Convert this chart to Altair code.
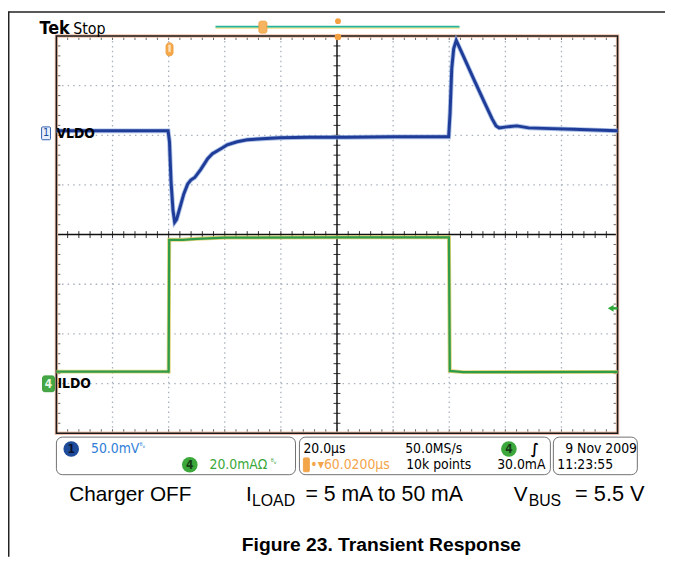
import altair as alt
import pandas as pd

# ---------------- data ----------------
# time axis: 20 us/div, 10 divisions -> 0..200 us across the graticule
vldo_t_us = [0, 39.8, 40.3, 40.85, 41.55, 42.15, 42.8, 43.3, 44.4, 45.4, 46.8, 47.9, 49.3,
             51.4, 53.9, 55.6, 57.4, 59.2, 60.9, 64.4, 68.0, 73.2, 79.6, 90.0, 103.2,
             120.0, 139.8, 140.3, 140.9, 141.6, 142.5, 145.4, 148.9, 152.5, 155.3, 156.7,
             157.8, 160.5, 164.1, 168.3, 173.6, 184.1, 200.0]
vldo_mv = [2, 2, -9, -49, -78, -90, -87.5, -82.5, -71.5, -61.5, -51.5, -47.5, -45,
           -37, -26, -21, -18, -15, -12, -9, -7, -6, -5, -4.5, -4.5,
           -4, -4, 20, 65, 85, 93, 75, 53, 31, 14, 7,
           5, 6, 7, 5, 4.5, 3.5, 2]

ildo_t_us = [0, 40.0, 40.2, 45.0, 50.0, 60.0, 100.0, 139.9, 140.2, 145.0, 200.0]
ildo_ma = [4.5, 4.5, 57.6, 57.6, 58.0, 58.5, 58.6, 58.6, 4.8, 4.3, 4.4]

CH1_MV_PER_DIV = 50.0
CH4_MA_PER_DIV = 20.0
CH1_OFFSET_DIV = 2.05
CH4_OFFSET_DIV = -2.985
TRIG_LEVEL_MA = 30.0

grid_t = [20, 40, 60, 80, 120, 140, 160, 180]
grid_d = [-3, -2, -1, 1, 2, 3]

v = pd.DataFrame({"t": vldo_t_us, "val": vldo_mv})
v["div"] = v["val"] / CH1_MV_PER_DIV + CH1_OFFSET_DIV
i4 = pd.DataFrame({"t": ildo_t_us, "val": ildo_ma})
i4["div"] = i4["val"] / CH4_MA_PER_DIV + CH4_OFFSET_DIV

# ---------------- layout helpers ----------------
O = 8  # page margin
FX0, FX1, FY0, FY1 = 57, 625, 33, 435
W, H = 665, 552
FONT_T = "DejaVu Sans Condensed"
FONT_F = "Liberation Sans"

xs = alt.Scale(domain=[0, 200], range=[FX0 - O, FX1 - O])
ys = alt.Scale(domain=[-4, 4], range=[FY1 - O, FY0 - O])


def X(f):
    return alt.X(f, type="quantitative", scale=xs, axis=None)


def Y(f):
    return alt.Y(f, type="quantitative", scale=ys, axis=None)


one = pd.DataFrame({"a": [0]})
base = alt.Chart(one)
layers = []


def txt(s, x, y, size=14, color="black", font=FONT_T, weight="normal",
        align="left", baseline="middle"):
    layers.append(base.mark_text(text=s, fontSize=size, color=color, font=font,
                                 fontWeight=weight, align=align, baseline=baseline)
                  .encode(x=alt.value(x - O), y=alt.value(y - O)))


def box(x0, x1, y0, y1, stroke="#707070", fill="white", r=0, sw=1.0, op=1.0):
    layers.append(base.mark_rect(stroke=stroke, fill=fill, cornerRadius=r,
                                 strokeWidth=sw, opacity=op)
                  .encode(x=alt.value(x0 - O), x2=alt.value(x1 - O),
                          y=alt.value(y0 - O), y2=alt.value(y1 - O)))


def hline(x0, x1, y, color, sw=1.0):
    layers.append(base.mark_rule(color=color, strokeWidth=sw)
                  .encode(x=alt.value(x0 - O), x2=alt.value(x1 - O), y=alt.value(y - O)))


def dot(x, y, color, size=60, shape="circle"):
    layers.append(base.mark_point(filled=True, color=color, size=size, shape=shape, opacity=1)
                  .encode(x=alt.value(x - O), y=alt.value(y - O)))


# outer figure border (top / left)
layers.append(base.mark_rule(color="#222", strokeWidth=1.5)
              .encode(x=alt.value(0.75), x2=alt.value(W), y=alt.value(0.75)))
layers.append(base.mark_rule(color="#222", strokeWidth=1.5)
              .encode(x=alt.value(0.75), y=alt.value(0), y2=alt.value(H)))

# graticule dotted grid
GRID = "#a9b2be"
layers.append(alt.Chart(pd.DataFrame({"t": grid_t}))
              .mark_rule(color=GRID, strokeWidth=1.3, strokeDash=[1.5, 3.5])
              .encode(x=X("t"), y=alt.value(FY0 - O), y2=alt.value(FY1 - O)))
layers.append(alt.Chart(pd.DataFrame({"d": grid_d}))
              .mark_rule(color=GRID, strokeWidth=1.3, strokeDash=[1.5, 4.18])
              .encode(y=Y("d"), x=alt.value(FX0 - O), x2=alt.value(FX1 - O)))

# minor ticks on center lines and on frame edges (1/5 division)
tt = pd.DataFrame({"t": [k * 4 for k in range(51)]})
dd = pd.DataFrame({"d": [k * 0.2 - 4 for k in range(41)]})
layers.append(alt.Chart(tt).mark_rule(color="#333", strokeWidth=1)
              .encode(x=X("t"), y=alt.value(226 - 3.5), y2=alt.value(226 + 3.5)))
layers.append(alt.Chart(dd).mark_rule(color="#333", strokeWidth=1)
              .encode(y=Y("d"), x=alt.value(333 - 3.5), x2=alt.value(333 + 3.5)))
layers.append(alt.Chart(tt).mark_rule(color="#666", strokeWidth=1)
              .encode(x=X("t"), y=alt.value(FY0 - O), y2=alt.value(FY0 - O + 4)))
layers.append(alt.Chart(tt).mark_rule(color="#666", strokeWidth=1)
              .encode(x=X("t"), y=alt.value(FY1 - O - 4), y2=alt.value(FY1 - O)))
layers.append(alt.Chart(dd).mark_rule(color="#666", strokeWidth=1)
              .encode(y=Y("d"), x=alt.value(FX0 - O), x2=alt.value(FX0 - O + 4)))
layers.append(alt.Chart(dd).mark_rule(color="#666", strokeWidth=1)
              .encode(y=Y("d"), x=alt.value(FX1 - O - 4), x2=alt.value(FX1 - O)))

# center cross lines
layers.append(alt.Chart(pd.DataFrame({"t": [100]})).mark_rule(color="#111", strokeWidth=1.5)
              .encode(x=X("t"), y=alt.value(FY0 - O), y2=alt.value(FY1 - O)))
layers.append(alt.Chart(pd.DataFrame({"d": [0]})).mark_rule(color="#111", strokeWidth=1.5)
              .encode(y=Y("d"), x=alt.value(FX0 - O), x2=alt.value(FX1 - O)))

# frame
layers.append(base.mark_rect(fill=None, stroke="#f2c3ad", strokeWidth=3.5)
              .encode(x=alt.value(FX0 - O), x2=alt.value(FX1 - O),
                      y=alt.value(FY0 - O), y2=alt.value(FY1 - O)))
layers.append(base.mark_rect(fill=None, stroke="#1a1a1a", strokeWidth=1.6)
              .encode(x=alt.value(FX0 - O), x2=alt.value(FX1 - O),
                      y=alt.value(FY0 - O), y2=alt.value(FY1 - O)))

# traces
layers.append(alt.Chart(i4).mark_line(color="#d9c85a", strokeWidth=4.0, opacity=0.8)
              .encode(x=X("t"), y=Y("div")))
layers.append(alt.Chart(i4).mark_line(color="#2f9c4a", strokeWidth=2.3)
              .encode(x=X("t"), y=Y("div")))
layers.append(alt.Chart(v).mark_line(color="#8aa6dc", strokeWidth=4.8, opacity=0.7)
              .encode(x=X("t"), y=Y("div")))
layers.append(alt.Chart(v).mark_line(color="#1f3d98", strokeWidth=3.0)
              .encode(x=X("t"), y=Y("div")))

# trigger level arrow (right edge)
trig = pd.DataFrame({"d": [TRIG_LEVEL_MA / CH4_MA_PER_DIV + CH4_OFFSET_DIV]})
layers.append(alt.Chart(trig).mark_rule(color="#2faa3a", strokeWidth=2.5)
              .encode(y=Y("d"), x=alt.value(FX1 - O - 6), x2=alt.value(FX1 - O)))
layers.append(alt.Chart(trig).mark_point(shape="triangle-left", filled=True, size=45,
                                         color="#2faa3a", opacity=1)
              .encode(y=Y("d"), x=alt.value(FX1 - O - 7)))

# ---------------- header ----------------
txt("Tek", 40, 31, size=18, weight="bold", font=FONT_T, baseline="alphabetic")
txt("Stop", 74, 31, size=16, font=FONT_T, baseline="alphabetic")
hline(218, 465, 25, "#f0e08a", 1.5)
hline(218, 465, 23.5, "#26b39c", 1.8)
box(262, 270, 18, 30, stroke="#f0a040", fill="#f6b460", r=2)
hline(264, 264, 24, "#f6b460")
dot(342, 18, "#f5a040", size=35)
dot(342, 34, "#f5a040", size=45)
box(168, 175, 40, 53, stroke="#f0a040", fill="#f5a84a", r=3)
box(170.5, 172.5, 42, 49, stroke="#fbe0b8", fill="#fbe0b8", r=0, sw=0.5)

# channel labels
box(42, 51, 125, 138, stroke="#3060b0", fill="#e8f0fb", r=1)
txt("1", 46.5, 131.5, size=11, color="#1f4e9c", align="center")
txt("VLDO", 57, 132.5, size=14, weight="bold", font=FONT_T)
box(43, 55, 377, 393, stroke="#3a9a3a", fill="#45a845", r=2)
txt("4", 49, 385, size=12, color="#eaf8e4", weight="bold", align="center")
txt("ILDO", 58, 385, size=14, weight="bold", font=FONT_T)

# ---------------- bottom readout panel ----------------
R1, R2 = 451, 467
box(57, 299, 439, 477, r=6)
box(303, 557, 439, 477, r=6)
box(560, 645, 439, 477, r=6)
dot(72, R1, "#1e4c9a", size=250)
txt("1", 72, R1, size=12, color="#0a1430", weight="bold", align="center")
txt("50.0mV", 92, R1, size=14, color="#2f7ed8")
txt("\u1d2e\u1d65", 141, R1 - 3, size=8, color="#2f7ed8")
dot(192, R2, "#3ca83c", size=250)
txt("4", 192, R2, size=12, color="#163a16", weight="bold", align="center")
txt("20.0mA\u03a9", 212, R2, size=14, color="#3aa83a")
txt("\u1d2e\u1d65", 274, R2 - 3, size=8, color="#3aa83a")
txt("20.0\u00b5s", 307, R1, size=14)
box(307, 313, 460, 474, stroke="#f3a54a", fill="#f3a54a", r=1)
txt("\u2022\u25be60.0200\u00b5s", 314, R2, size=14, color="#f3a54a")
txt("50.0MS/s", 410, R1, size=14)
txt("10k points", 411, R2, size=14)
dot(515, R1, "#3ca83c", size=250)
txt("4", 515, R1, size=12, color="#163a16", weight="bold", align="center")
txt("\u222b", 537, R1, size=15, weight="bold")
txt("30.0mA", 552, R2, size=14, align="right")
txt("9 Nov 2009", 572, R1, size=14)
txt("11:23:55", 564, R2, size=14)

# ---------------- caption ----------------
FB = 504
txt("Charger OFF", 70, FB, size=21, font=FONT_F, baseline="alphabetic")
txt("I", 249, FB, size=21, font=FONT_F, baseline="alphabetic")
txt("LOAD", 255, FB + 5, size=16, font=FONT_F, baseline="alphabetic")
txt("= 5 mA to 50 mA", 309, FB, size=21.5, font=FONT_F, baseline="alphabetic")
txt("V", 520, FB, size=21, font=FONT_F, baseline="alphabetic")
txt("BUS", 535, FB + 5, size=16, font=FONT_F, baseline="alphabetic")
txt("= 5.5 V", 582, FB, size=22, font=FONT_F, baseline="alphabetic")
txt("Figure 23. Transient Response", 386, 554, size=19.5, font=FONT_F, weight="bold",
    align="center", baseline="alphabetic")

chart = (alt.layer(*layers)
         .properties(width=W, height=H, padding=0, autosize="none", background="white")
         .configure_view(stroke=None))

chart.save("out.html", embed_options={"renderer": "svg", "actions": False})
